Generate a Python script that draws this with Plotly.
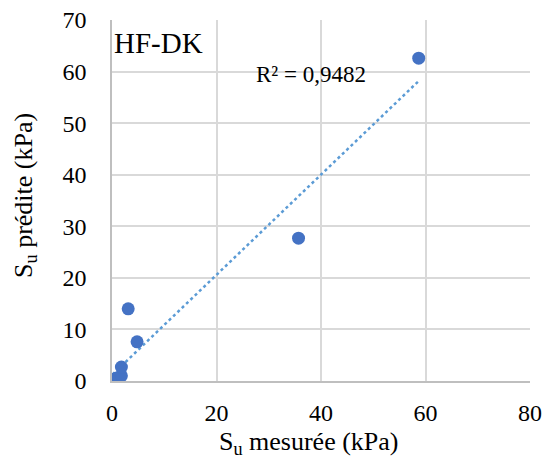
import numpy as np
import plotly.graph_objects as go

# Data
su_mesuree = [0.1, 0.4, 0.9, 1.3, 1.8, 1.8, 4.8, 3.1, 35.7, 58.7]
su_predite = [0.1, 0.3, 0.6, 0.5, 1.0, 2.7, 7.6, 14.0, 27.7, 62.6]
x_ticks = [0, 20, 40, 60, 80]
y_ticks = [0, 10, 20, 30, 40, 50, 60, 70]
label_series = "HF-DK"
label_r2 = "R² = 0,9482"

x = np.array(su_mesuree)
y = np.array(su_predite)
slope, intercept = np.polyfit(x, y, 1)
xt = np.linspace(x.min(), x.max(), 50)
yt = slope * xt + intercept

FONT = "Liberation Serif"

fig = go.Figure()
fig.add_trace(go.Scatter(x=xt, y=yt, mode="lines",
                         line=dict(color="#5B9BD5", width=2.5, dash="dot"),
                         hoverinfo="skip", showlegend=False))
fig.add_trace(go.Scatter(x=su_mesuree, y=su_predite, mode="markers",
                         marker=dict(color="#4472C4", size=13),
                         showlegend=False))

axis_common = dict(showgrid=True, gridcolor="#D9D9D9", gridwidth=1.5,
                   showline=True, linecolor="#BFBFBF", linewidth=1.5,
                   zeroline=False, ticks="", mirror=False, automargin=False,
                   ticklabeloverflow="allow",
                   tickfont=dict(family=FONT, size=24, color="#000000"))

fig.update_xaxes(range=[0, 80], tickvals=x_ticks, ticklabelstandoff=9, **axis_common)
fig.update_yaxes(range=[0, 70], tickvals=y_ticks, ticklabelstandoff=19, **axis_common)

fig.add_annotation(xref="paper", yref="paper", x=0.4713, y=-0.1706,
                   text="S<sub>u</sub> mesurée (kPa)", showarrow=False,
                   xanchor="center", yanchor="middle",
                   font=dict(family=FONT, size=26, color="#000000"))
fig.add_annotation(xref="paper", yref="paper", x=-0.2085, y=0.515,
                   text="S<sub>u</sub> prédite (kPa)", showarrow=False,
                   textangle=-90, xanchor="center", yanchor="middle",
                   font=dict(family=FONT, size=26, color="#000000"))
fig.add_annotation(xref="paper", yref="paper", x=0.0, y=0.9366,
                   text=label_series, showarrow=False,
                   xanchor="left", yanchor="middle",
                   font=dict(family=FONT, size=29, color="#000000"))
fig.add_annotation(xref="paper", yref="paper", x=0.477, y=0.848,
                   text=label_r2, showarrow=False,
                   xanchor="center", yanchor="middle",
                   font=dict(family=FONT, size=23, color="#000000"))

# page body has an 8px margin: shrink the figure so the plot area lands where the reference has it
fig.update_layout(width=542, height=453,
                  margin=dict(l=103.6, r=19.6, t=12.4, b=79.6, autoexpand=False),
                  paper_bgcolor="white", plot_bgcolor="white",
                  showlegend=False)

fig.write_html("out.html")
